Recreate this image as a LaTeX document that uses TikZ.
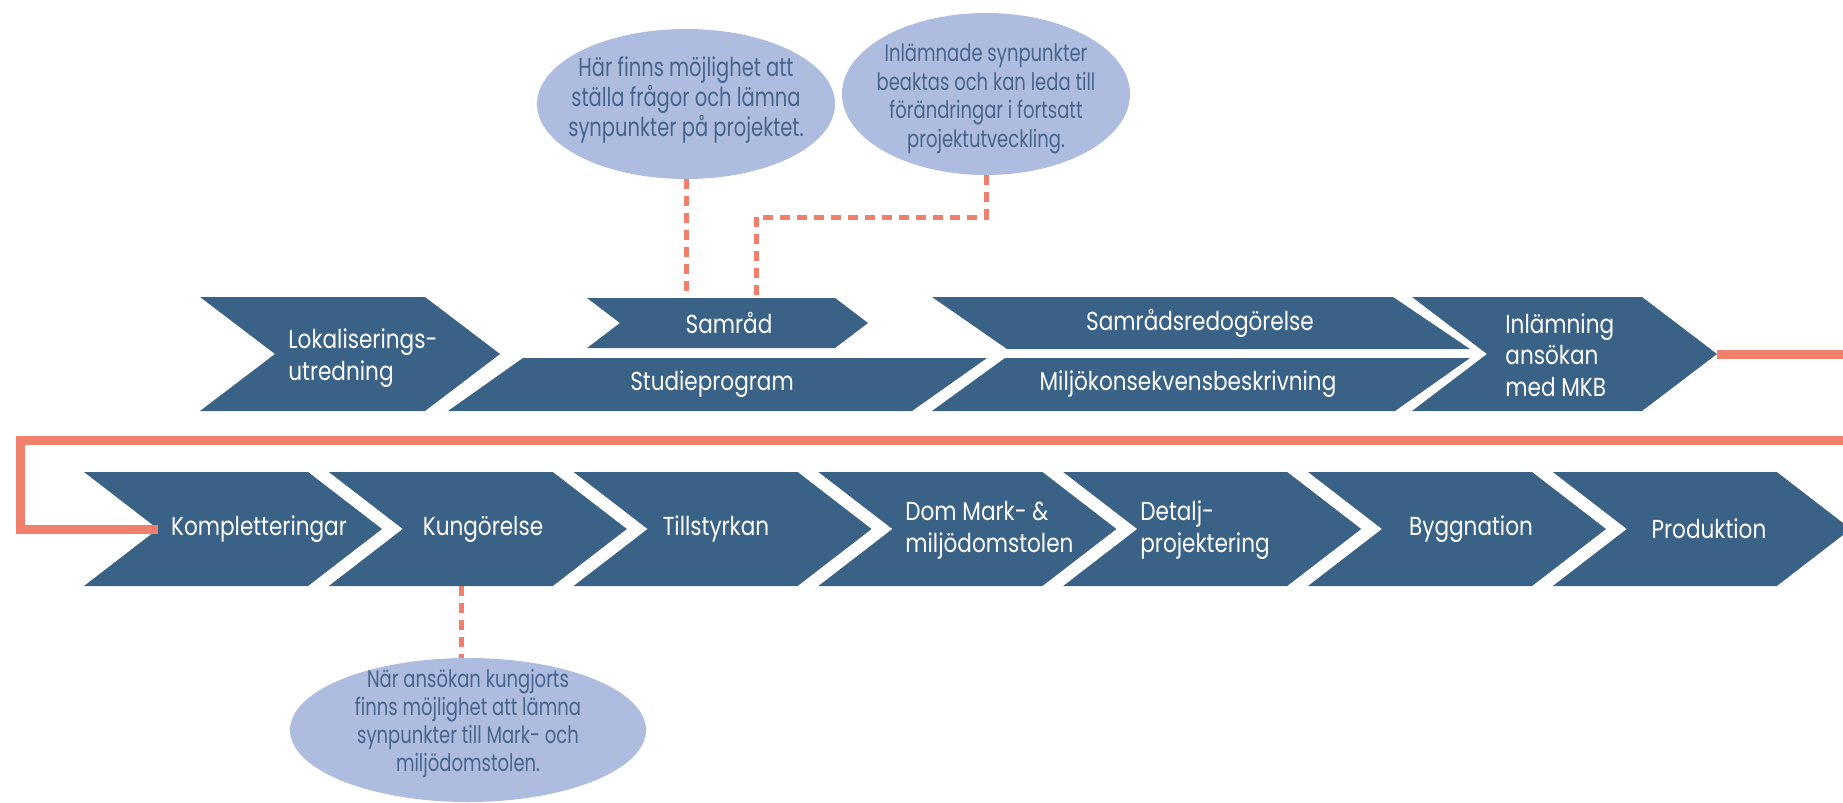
\documentclass[tikz,border=0pt]{standalone}
\usepackage{fontspec}
\setmainfont[FakeStretch=0.83]{Poppins}
\newfontfamily\bubblefont[FakeStretch=0.75]{Poppins}
\usetikzlibrary{shapes.geometric}
\definecolor{procblue}{RGB}{58,98,134}
\definecolor{bubble}{RGB}{174,188,224}
\definecolor{bubbletext}{RGB}{72,100,140}
\definecolor{salmon}{RGB}{240,128,108}
\tikzset{
  steptext/.style={text=white,font=\fontsize{13}{15.8}\selectfont,inner sep=0pt},
  bubblenode/.style={ellipse,fill=bubble,inner sep=0pt},
  bubbletxt/.style={text=bubbletext,align=center,inner sep=0pt},
  dashline/.style={salmon,line width=2.5pt,dash pattern=on 5pt off 3.5pt},
  loopline/.style={salmon,line width=4.5pt},
}
% x, top y, width, height, depth
\newcommand{\chev}[5]{%
  \fill[procblue] (#1,#2) -- ++(#3,0) -- ++(#5,#4/2) -- ++(-#5,#4/2)
    -- ++(-#3,0) -- ++(#5,-#4/2) -- cycle;}
\begin{document}
\begin{tikzpicture}[x=0.5pt,y=-0.5pt]
\useasboundingbox (0,0) rectangle (1843,803);
% upper row
\chev{200}{297}{225}{114}{75}
\chev{587}{298}{248}{50}{33}
\fill[procblue] (523,358) -- (987,358) -- (912,411) -- (448,411) -- cycle;
\fill[procblue] (932,297) -- (1393,297) -- (1470,349) -- (1007,349) -- cycle;
\fill[procblue] (1005,358) -- (1470,358) -- (1395,411) -- (932,411) -- cycle;
\chev{1412}{297}{230}{114}{75}
% lower row
\foreach \i in {0,...,6}{\chev{84+244.8*\i}{472}{224}{114}{74}}

\node[steptext,anchor=west,align=left] (lok) at (288,358) {Lokaliserings-\\utredning};
\node[steptext] (samrad) at (729,323) {Samråd};
\node[steptext] (studie) at (712,384) {Studieprogram};
\node[steptext] (redog) at (1200,323) {Samrådsredogörelse};
\node[steptext] (mkb) at (1188,384) {Miljökonsekvensbeskrivning};
\node[steptext,anchor=west,align=left] (inlamn) at (1505,355) {Inlämning\\ansökan\\med MKB};

\node[steptext] (kompl) at (259,529) {Kompletteringar};
\node[steptext] (kung) at (483,529) {Kungörelse};
\node[steptext] (tillst) at (716,529) {Tillstyrkan};
\node[steptext,anchor=west,align=left] (dom) at (905,530) {Dom Mark- \&\\miljödomstolen};
\node[steptext,anchor=west,align=left] (detalj) at (1140,530) {Detalj-\\projektering};
\node[steptext] (bygg) at (1471,529) {Byggnation};
\node[steptext] (prod) at (1709,529) {Produktion};

% bubbles
\node[bubblenode,minimum width=149pt,minimum height=75pt] (fraga) at (686,104) {};
\node[bubbletxt,font=\bubblefont\fontsize{13}{14}\selectfont,yshift=2pt] (fragatext) at (fraga)
  {Här finns möjlighet att\\ställa frågor och lämna\\synpunkter på projektet.};
\node[bubblenode,minimum width=144pt,minimum height=81pt] (beakta) at (986,94) {};
\node[bubbletxt,font=\bubblefont\fontsize{12}{14.3}\selectfont,yshift=-2.5pt] (beaktatext) at (beakta)
  {Inlämnade synpunkter\\beaktas och kan leda till\\förändringar i fortsatt\\projektutveckling.};
\node[bubblenode,minimum width=178pt,minimum height=72pt] (kungjort) at (468,730) {};
\node[bubbletxt,font=\bubblefont\fontsize{12}{14}\selectfont,yshift=3.5pt] (kungjorttext) at (kungjort)
  {När ansökan kungjorts\\finns möjlighet att lämna\\synpunkter till Mark- och\\miljödomstolen.};

\coordinate (samradtop) at (711,298);
\coordinate (knee) at (756,217);
\coordinate (kungbot) at (461,586);
\coordinate (inlamntip) at (1717,354);
\coordinate (komplnotch) at (158,529);
\draw[dashline] (fraga.south) -- (fraga.south |- samradtop);
\draw[dashline] (beakta.south) |- (knee) -- (knee |- samradtop);
\draw[dashline] (kungbot) -- (kungbot |- kungjort.north);
\draw[loopline] (inlamntip) -- (1860,354) -- (1860,440) -- (20,440) -- (20,529) -- (komplnotch);
\end{tikzpicture}
\end{document}
